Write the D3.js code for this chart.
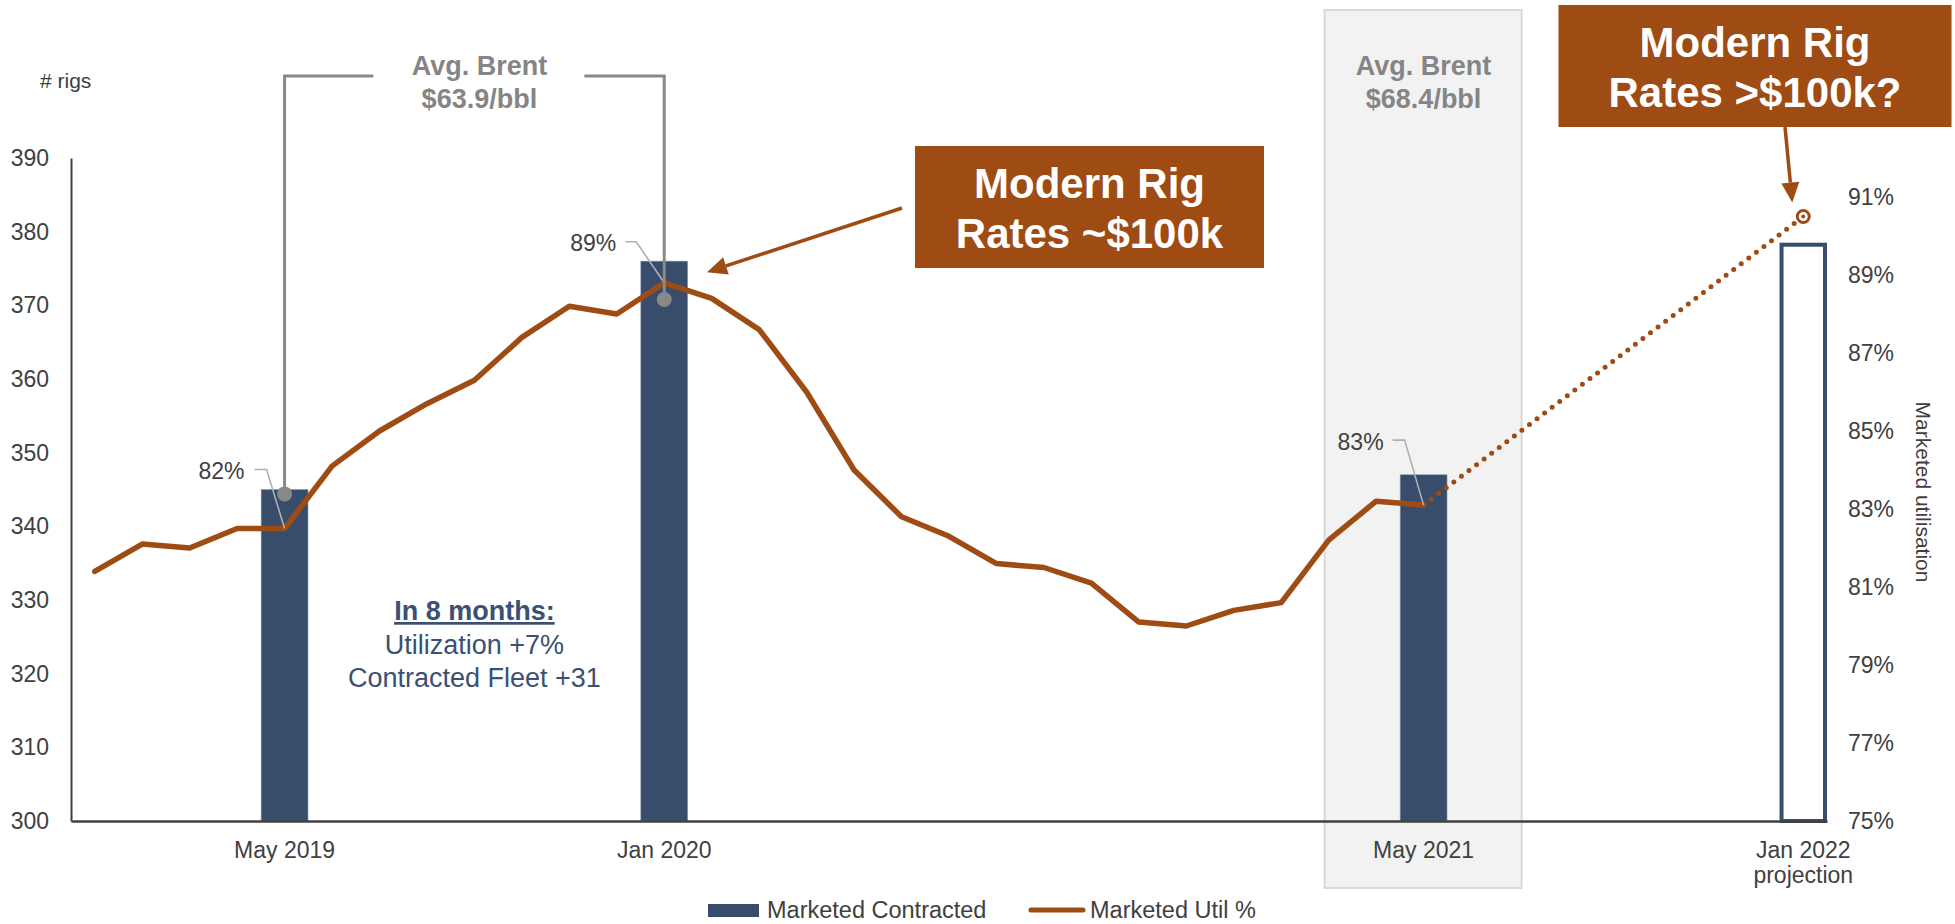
<!DOCTYPE html>
<html>
<head>
<meta charset="utf-8">
<script src="https://cdn.jsdelivr.net/npm/d3@7/dist/d3.min.js"></script>
<style>
body { margin: 0; background: #fff; }
svg text { font-family: "Liberation Sans", Arial, sans-serif; }
</style>
</head>
<body>
<svg id="chart"></svg>
<script>
// Months on the x axis (one band each)
var months = ["Jan 2019","Feb 2019","Mar 2019","Apr 2019","May 2019","Jun 2019","Jul 2019","Aug 2019","Sep 2019","Oct 2019","Nov 2019","Dec 2019",
  "Jan 2020","Feb 2020","Mar 2020","Apr 2020","May 2020","Jun 2020","Jul 2020","Aug 2020","Sep 2020","Oct 2020","Nov 2020","Dec 2020",
  "Jan 2021","Feb 2021","Mar 2021","Apr 2021","May 2021","Jun 2021","Jul 2021","Aug 2021","Sep 2021","Oct 2021","Nov 2021","Dec 2021",
  "Jan 2022"];

// Marketed utilisation %, Jan 2019 .. May 2021
var utilMonths = months.slice(0, 29);
var utilValues = [81.4, 82.1, 82.0, 82.5, 82.5, 84.1, 85.0, 85.7, 86.3, 87.4, 88.2, 88.0,
  88.8, 88.4, 87.6, 86.0, 84.0, 82.8, 82.3, 81.6, 81.5, 81.1, 80.1, 80.0,
  80.4, 80.6, 82.2, 83.2, 83.1];

// Projection of utilisation
var projMonths = ["May 2021", "Jan 2022"];
var projValues = [83.1, 90.5];

// Marketed contracted rigs
var barMonths = ["May 2019", "Jan 2020", "May 2021", "Jan 2022"];
var barValues = [345, 376, 347, 378.5];
var barProjected = [false, false, false, true];

// Tick labels
var leftTicks = [300, 310, 320, 330, 340, 350, 360, 370, 380, 390];
var rightTicks = [75, 77, 79, 81, 83, 85, 87, 89, 91];
var xTickLabels = [["May 2019"], ["Jan 2020"], ["May 2021"], ["Jan 2022", "projection"]];

// Labels on the line
var pctLabelMonths = ["May 2019", "Jan 2020", "May 2021"];
var pctLabelTexts = ["82%", "89%", "83%"];

var W = 1955, H = 924;
var plotLeft = 71, plotRight = 1827, plotTop = 158, plotBottom = 821;

var barColor = "#384d6c";
var lineColor = "#9e4b14";
var textColor = "#404040";
var grayColor = "#898989";

var svg = d3.select("#chart").attr("width", W).attr("height", H);

var x = d3.scaleBand().domain(months).range([plotLeft, plotRight]).padding(0);
var bw = x.bandwidth();
function xc(m) { return x(m) + bw / 2; }
var yL = d3.scaleLinear().domain([300, 390]).range([plotBottom, plotTop]);
var yR = d3.scaleLinear().domain([75, 92]).range([plotBottom, plotTop]);

//Shaded period box for May 2021
var shadeX = xc("May 2021");
svg.append("rect")
  .attr("x", shadeX - 99).attr("y", 10)
  .attr("width", 197).attr("height", 878)
  .attr("fill", "#f2f2f2").attr("stroke", "#d9d9d9").attr("stroke-width", 2);
svg.append("text").attr("x", shadeX).attr("y", 75)
  .attr("text-anchor", "middle").attr("font-size", 27).attr("font-weight", "bold")
  .attr("fill", "#858585").text("Avg. Brent");
svg.append("text").attr("x", shadeX).attr("y", 108)
  .attr("text-anchor", "middle").attr("font-size", 27).attr("font-weight", "bold")
  .attr("fill", "#858585").text("$68.4/bbl");

//Bars
var bars = barMonths.map(function(m, i) { return { m: m, v: barValues[i], p: barProjected[i] }; });
svg.selectAll("rect.bar").data(bars).enter().append("rect")
  .attr("class", "bar")
  .attr("x", function(d) { return d.p ? x(d.m) + 2 : x(d.m) + 0.3; })
  .attr("y", function(d) { return yL(d.v) + (d.p ? 2 : 0); })
  .attr("width", function(d) { return d.p ? bw - 4 : bw - 0.6; })
  .attr("height", function(d) { return plotBottom - yL(d.v) - (d.p ? 2 : 0); })
  .attr("fill", function(d) { return d.p ? "#fff" : barColor; })
  .attr("stroke", function(d) { return d.p ? barColor : "#8a9ab0"; })
  .attr("stroke-width", function(d) { return d.p ? 4 : 0.6; });

//Left axis
var leftAxis = svg.append("g").attr("transform", "translate(" + plotLeft + ",0)")
  .call(d3.axisLeft(yL).tickValues(leftTicks).tickSize(0).tickPadding(22));
leftAxis.select(".domain").attr("stroke", textColor).attr("stroke-width", 2);
leftAxis.selectAll("text").attr("font-size", 23).attr("fill", textColor)
  .style("font-family", '"Liberation Sans", Arial, sans-serif');
svg.append("text").attr("x", 40).attr("y", 88).attr("font-size", 21)
  .attr("fill", textColor).text("# rigs");

//Right axis
var rightAxis = svg.append("g").attr("transform", "translate(" + plotRight + ",0)")
  .call(d3.axisRight(yR).tickValues(rightTicks).tickFormat(function(d) { return d + "%"; })
    .tickSize(0).tickPadding(21));
rightAxis.select(".domain").remove();
rightAxis.selectAll("text").attr("font-size", 23).attr("fill", textColor)
  .style("font-family", '"Liberation Sans", Arial, sans-serif');
svg.append("text")
  .attr("transform", "translate(1916," + 492 + ") rotate(90)")
  .attr("text-anchor", "middle").attr("font-size", 21).attr("fill", textColor)
  .text("Marketed utilisation");

//Bottom axis
var bottomAxis = svg.append("g").attr("transform", "translate(0," + plotBottom + ")")
  .call(d3.axisBottom(x).tickValues(barMonths).tickSize(0).tickSizeOuter(0).tickFormat(""));
bottomAxis.select(".domain").attr("stroke", textColor).attr("stroke-width", 2.5);
bottomAxis.selectAll(".tick").each(function(d, i) {
  var t = d3.select(this).append("text").attr("fill", textColor).attr("font-size", 23)
    .attr("text-anchor", "middle").style("font-family", '"Liberation Sans", Arial, sans-serif');
  xTickLabels[i].forEach(function(s, j) {
    t.append("tspan").attr("x", 0).attr("y", 37 + j * 25).text(s);
  });
});

//Utilisation line
var lineData = utilMonths.map(function(m, i) { return { m: m, v: utilValues[i] }; });
var line = d3.line().x(function(d) { return xc(d.m); }).y(function(d) { return yR(d.v); });
svg.append("path").datum(lineData).attr("d", line)
  .attr("fill", "none").attr("stroke", lineColor).attr("stroke-width", 5.5)
  .attr("stroke-linejoin", "round").attr("stroke-linecap", "round");

var projData = projMonths.map(function(m, i) { return { m: m, v: projValues[i] }; });
svg.append("path").datum(projData).attr("d", line)
  .attr("fill", "none").attr("stroke", lineColor).attr("stroke-width", 5)
  .attr("stroke-dasharray", "0,9.5").attr("stroke-linecap", "round");
var endX = xc("Jan 2022"), endY = yR(projValues[1]);
svg.append("circle").attr("cx", endX).attr("cy", endY).attr("r", 6)
  .attr("fill", "#fff").attr("stroke", lineColor).attr("stroke-width", 3);
svg.append("circle").attr("cx", endX).attr("cy", endY).attr("r", 2).attr("fill", lineColor);

//Percentage labels with leader lines
var labelOffsets = [[-40, -50, -30, -59, -18, -59], [-48, -32, -39, -41, -28, -41], [-40, -55, -31, -65, -19, -65]];
pctLabelMonths.forEach(function(m, i) {
  var px = xc(m), py = yR(utilValues[utilMonths.indexOf(m)]);
  var o = labelOffsets[i];
  svg.append("path")
    .attr("d", "M" + (px + o[2]) + "," + (py + o[3]) + "H" + (px + o[4]) + "L" + px + "," + py)
    .attr("fill", "none").attr("stroke", "#b0b0b0").attr("stroke-width", 1.6);
  svg.append("text").attr("x", px + o[0]).attr("y", py + o[1])
    .attr("text-anchor", "end").attr("font-size", 23).attr("fill", textColor)
    .text(pctLabelTexts[i]);
});

//Avg. Brent bracket between May 2019 and Jan 2020
var bx1 = xc("May 2019"), bx2 = xc("Jan 2020"), bTop = 76;
var bMid = (bx1 + bx2) / 2 + 5;
svg.append("path")
  .attr("d", "M" + (bMid - 106) + "," + bTop + "H" + bx1 + "V" + yL(344.4))
  .attr("fill", "none").attr("stroke", grayColor).attr("stroke-width", 3);
svg.append("path")
  .attr("d", "M" + (bMid + 105) + "," + bTop + "H" + bx2 + "V" + yL(370.8))
  .attr("fill", "none").attr("stroke", grayColor).attr("stroke-width", 3);
svg.append("circle").attr("cx", bx1).attr("cy", yL(344.4)).attr("r", 7.5).attr("fill", grayColor);
svg.append("circle").attr("cx", bx2).attr("cy", yL(370.8)).attr("r", 7.5).attr("fill", grayColor);
svg.append("text").attr("x", bMid).attr("y", 75)
  .attr("text-anchor", "middle").attr("font-size", 27).attr("font-weight", "bold")
  .attr("fill", "#858585").text("Avg. Brent");
svg.append("text").attr("x", bMid).attr("y", 108)
  .attr("text-anchor", "middle").attr("font-size", 27).attr("font-weight", "bold")
  .attr("fill", "#858585").text("$63.9/bbl");

//In 8 months note
var noteX = (bx1 + bx2) / 2;
var noteLines = ["In 8 months:", "Utilization +7%", "Contracted Fleet +31"];
noteLines.forEach(function(s, i) {
  svg.append("text").attr("x", noteX).attr("y", 620 + i * 33.5)
    .attr("text-anchor", "middle").attr("font-size", 27).attr("fill", "#3b5072")
    .attr("font-weight", i === 0 ? "bold" : "normal")
    .style("text-decoration", i === 0 ? "underline" : "none")
    .text(s);
});

//Arrow helper
function arrow(x1, y1, x2, y2) {
  var a = Math.atan2(y2 - y1, x2 - x1), len = 20, half = 9;
  var bxp = x2 - len * Math.cos(a), byp = y2 - len * Math.sin(a);
  svg.append("line").attr("x1", x1).attr("y1", y1).attr("x2", bxp).attr("y2", byp)
    .attr("stroke", lineColor).attr("stroke-width", 3.5);
  svg.append("path")
    .attr("d", "M" + x2 + "," + y2 +
      "L" + (bxp + half * Math.sin(a)) + "," + (byp - half * Math.cos(a)) +
      "L" + (bxp - half * Math.sin(a)) + "," + (byp + half * Math.cos(a)) + "Z")
    .attr("fill", lineColor);
}

//Callout boxes
function callout(cx, top, w, lines) {
  svg.append("rect").attr("x", cx - w / 2).attr("y", top).attr("width", w).attr("height", 122)
    .attr("fill", lineColor);
  lines.forEach(function(s, i) {
    svg.append("text").attr("x", cx).attr("y", top + 52 + i * 50)
      .attr("text-anchor", "middle").attr("font-size", 42).attr("font-weight", "bold")
      .attr("fill", "#fff").text(s);
  });
}
callout(1089.5, 146, 349, ["Modern Rig", "Rates ~$100k"]);
arrow(902, 208, x("Jan 2020") + bw + 19, yL(376) + 11);

callout(1755, 5, 393, ["Modern Rig", "Rates >$100k?"]);
arrow(1785, 127, endX - 11, endY - 14);

//Legend
var lg = svg.append("g");
lg.append("rect").attr("x", 708).attr("y", 904).attr("width", 51).attr("height", 13).attr("fill", barColor);
lg.append("text").attr("x", 767).attr("y", 918).attr("font-size", 23.5).attr("fill", textColor).text("Marketed Contracted");
lg.append("line").attr("x1", 1031).attr("x2", 1083).attr("y1", 910).attr("y2", 910)
  .attr("stroke", lineColor).attr("stroke-width", 5).attr("stroke-linecap", "round");
lg.append("text").attr("x", 1090).attr("y", 918).attr("font-size", 23.5).attr("fill", textColor).text("Marketed Util %");
</script>
</body>
</html>
